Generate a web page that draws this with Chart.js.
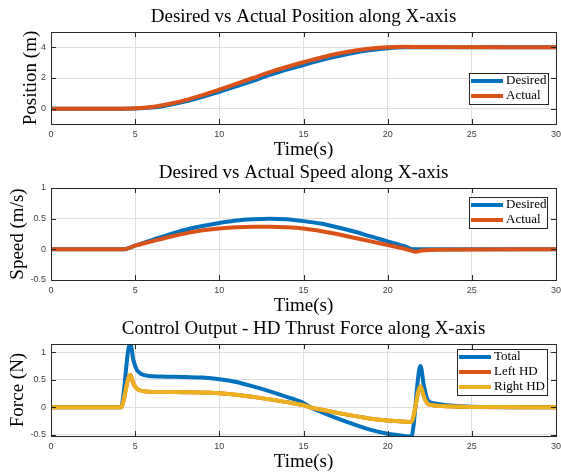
<!DOCTYPE html>
<html>
<head>
<meta charset="utf-8">
<script src="https://cdn.jsdelivr.net/npm/chart.js@4.4.0/dist/chart.umd.min.js"></script>
<style>
  html, body { margin: 0; background: #fff; overflow: hidden; }
  canvas { position: absolute; left: 0; }
</style>
</head>
<body>
<canvas id="posChart" width="561" height="166" style="top:0px"></canvas>
<canvas id="spdChart" width="561" height="166" style="top:156px"></canvas>
<canvas id="forceChart" width="561" height="166" style="top:312px"></canvas>
<script>
// x axis ticks shared by all three plots
const xTicks = [0, 5, 10, 15, 20, 25, 30];

// position along X
const posTime = [0, 4, 5, 6, 7, 8, 9, 10, 11, 12, 13, 14, 15, 16, 17, 18, 19, 20, 21, 22, 30];
const posDesired = [0, 0, 0.01, 0.07, 0.24, 0.48, 0.78, 1.1, 1.45, 1.82, 2.2, 2.55, 2.85, 3.15, 3.42, 3.65, 3.82, 3.94, 4.0, 4.0, 4.0];
const posActual = [0, 0, 0.02, 0.11, 0.3, 0.56, 0.88, 1.24, 1.62, 2.0, 2.38, 2.72, 3.03, 3.32, 3.58, 3.78, 3.92, 4.0, 4.03, 4.02, 4.0];
const posTicks = [0, 2, 4];

// speed along X
const spdTime = [0, 4.3, 5, 6, 7, 8, 9, 10, 11, 12, 13, 14, 15, 16, 17, 18, 19, 20, 21, 21.5, 21.7, 22, 22.5, 30];
const spdDesired = [0, 0, 0.06, 0.15, 0.24, 0.32, 0.38, 0.43, 0.47, 0.49, 0.5, 0.49, 0.46, 0.42, 0.36, 0.29, 0.21, 0.13, 0.05, 0, 0, 0, 0, 0];
const spdActual = [0, 0, 0.06, 0.13, 0.2, 0.26, 0.31, 0.34, 0.36, 0.37, 0.37, 0.36, 0.34, 0.3, 0.25, 0.19, 0.13, 0.07, 0.01, -0.03, -0.04, -0.02, -0.01, 0];
const spdTicks = [-0.5, 0, 0.5, 1];

// thrust force
const forceTime = [0, 4.15, 4.7, 4.9, 5.1, 5.4, 5.8, 6.5, 8, 9, 10, 11, 12, 13, 14, 15, 15.4, 16, 17, 18, 19, 20, 21, 21.4, 21.95, 22.15, 22.4, 22.8, 23.5, 25, 30];
const forceTotal = [0, 0, 1.17, 0.85, 0.68, 0.6, 0.57, 0.56, 0.55, 0.54, 0.51, 0.46, 0.38, 0.29, 0.19, 0.08, 0, -0.08, -0.2, -0.31, -0.41, -0.48, -0.52, -0.53, 0.75, 0.4, 0.12, 0.07, 0.04, 0.01, 0];
const forceLeft = [0, 0, 0.59, 0.43, 0.34, 0.3, 0.285, 0.28, 0.275, 0.27, 0.255, 0.23, 0.19, 0.145, 0.095, 0.04, 0, -0.04, -0.1, -0.155, -0.205, -0.24, -0.26, -0.265, 0.38, 0.2, 0.06, 0.035, 0.02, 0.005, 0];
const forceRight = [0, 0, 0.59, 0.43, 0.34, 0.3, 0.285, 0.28, 0.275, 0.27, 0.255, 0.23, 0.19, 0.145, 0.095, 0.04, 0, -0.04, -0.1, -0.155, -0.205, -0.24, -0.26, -0.265, 0.38, 0.2, 0.06, 0.035, 0.02, 0.005, 0];
const forceTicks = [-0.5, 0, 0.5, 1];

const blue = "#0072BD", orange = "#D95319", yellow = "#EDB120";
const gridColor = "#dfdfdf", axisColor = "#262626", tickColor = "#404040";
const serif = "'Liberation Serif', 'Times New Roman', serif";
const sans = "'Liberation Sans', Arial, sans-serif";

// box round the axes, inner tick marks and a legend inside the plot
const matlabBox = {
  id: "matlabBox",
  afterDatasetsDraw(chart, args, opts) {
    const { ctx, chartArea: a, scales: { x, y } } = chart;
    ctx.save();
    ctx.strokeStyle = axisColor;
    ctx.lineWidth = 1;
    ctx.beginPath();
    for (const t of x.ticks) {
      const px = Math.round(x.getPixelForValue(t.value)) + 0.5;
      ctx.moveTo(px, a.bottom); ctx.lineTo(px, a.bottom - 5);
      ctx.moveTo(px, a.top); ctx.lineTo(px, a.top + 5);
    }
    for (const t of y.ticks) {
      const py = Math.round(y.getPixelForValue(t.value)) + 0.5;
      ctx.moveTo(a.left, py); ctx.lineTo(a.left + 5, py);
      ctx.moveTo(a.right, py); ctx.lineTo(a.right - 5, py);
    }
    ctx.stroke();
    ctx.strokeRect(Math.round(a.left) + 0.5, Math.round(a.top) + 0.5, Math.round(a.width), Math.round(a.height));

    const sets = chart.data.datasets;
    const h = 16 + 15 * (sets.length - 1);
    ctx.fillStyle = "#fff";
    ctx.fillRect(opts.x, opts.y, opts.w, h);
    ctx.strokeRect(opts.x + 0.5, opts.y + 0.5, opts.w, h);
    ctx.font = "13px " + serif;
    ctx.textBaseline = "middle";
    sets.forEach((ds, i) => {
      const ry = opts.y + 8 + 15 * i;
      ctx.strokeStyle = ds.borderColor;
      ctx.lineWidth = 4;
      ctx.beginPath();
      ctx.moveTo(opts.x + 2, ry);
      ctx.lineTo(opts.x + 34, ry);
      ctx.stroke();
      ctx.fillStyle = "#000";
      ctx.fillText(ds.label, opts.x + 37, ry);
    });
    ctx.restore();
  }
};

const series = (label, times, values, color, order) => ({
  label: label,
  data: times.map((t, i) => ({ x: t, y: values[i] })),
  borderColor: color,
  backgroundColor: color,
  borderWidth: 4,
  pointRadius: 0,
  borderJoinStyle: "round",
  cubicInterpolationMode: "monotone",
  order: order
});

function makeChart(id, title, yTitle, yTitlePad, yMin, yMax, yTicks, datasets, legendBox) {
  return new Chart(document.getElementById(id), {
    type: "line",
    data: { datasets: datasets },
    options: {
      responsive: false,
      animation: false,
      layout: { padding: { left: 0, top: 0, right: 5, bottom: 10 } },
      plugins: {
        legend: { display: false },
        tooltip: { enabled: false },
        title: {
          display: true, text: title, fullSize: false, color: "#000",
          font: { family: serif, size: 19, weight: "normal" },
          padding: { top: 5.5, bottom: 3.7 }
        },
        matlabBox: legendBox
      },
      scales: {
        x: {
          type: "linear", min: 0, max: 30,
          afterBuildTicks: s => { s.ticks = xTicks.map(v => ({ value: v })); },
          afterFit: s => { s.height = 32; s.paddingLeft = 0; s.paddingRight = 0; },
          grid: { color: gridColor, drawTicks: false },
          border: { display: false },
          ticks: { color: tickColor, font: { family: sans, size: 9 }, padding: 5, maxRotation: 0, callback: v => String(v) },
          title: { display: true, text: "Time(s)", color: "#000", font: { family: serif, size: 19, lineHeight: 0.63 }, padding: 0 }
        },
        y: {
          type: "linear", min: yMin, max: yMax,
          afterBuildTicks: s => { s.ticks = yTicks.map(v => ({ value: v })); },
          afterFit: s => { s.width = 51; s.paddingTop = 0; s.paddingBottom = 0; },
          grid: { color: gridColor, drawTicks: false },
          border: { display: false },
          ticks: { color: tickColor, font: { family: sans, size: 9 }, padding: 5, callback: v => String(v) },
          title: { display: true, text: yTitle, color: "#000", font: { family: serif, size: 19 }, padding: { top: yTitlePad, bottom: 0 } }
        }
      }
    },
    plugins: [matlabBox]
  });
}

makeChart("posChart", "Desired vs Actual Position along X-axis", "Position (m)", 19.5, -1, 5, posTicks, [
  series("Desired", posTime, posDesired, blue, 2),
  series("Actual", posTime, posActual, orange, 1)
], { x: 469, y: 73, w: 79 });

makeChart("spdChart", "Desired vs Actual Speed along X-axis", "Speed (m/s)", 6.5, -0.5, 1, spdTicks, [
  series("Desired", spdTime, spdDesired, blue, 2),
  series("Actual", spdTime, spdActual, orange, 1)
], { x: 469, y: 41, w: 78 });

makeChart("forceChart", "Control Output - HD Thrust Force along X-axis", "Force (N)", 6.5, -0.52, 1.15, forceTicks, [
  series("Total", forceTime, forceTotal, blue, 3),
  series("Left HD", forceTime, forceLeft, orange, 2),
  series("Right HD", forceTime, forceRight, yellow, 1)
], { x: 457, y: 37, w: 90 });
</script>
</body>
</html>
